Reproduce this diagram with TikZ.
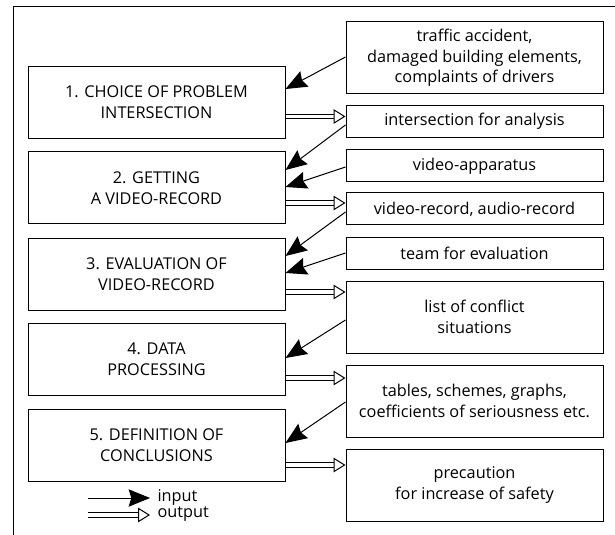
\documentclass[tikz,border=0pt]{standalone}
\usepackage{fontspec}
\setmainfont{Open Sans}
\usetikzlibrary{arrows.meta}

\tikzset{every picture/.style={line width=0.75pt}}
\tikzset{
  stepbox/.style={draw, minimum width=192.75pt, minimum height=54pt, align=center, inner sep=0pt},
  resbox/.style={draw, minimum width=192.75pt, align=center, inner sep=0pt},
  inarr/.style={-{Stealth[length=16pt,width=13pt,inset=2pt]}},
  outarr/.style={double, double distance=2.4pt, -{Triangle[open, length=9pt, width=11pt, line width=0.75pt]}},
}

\begin{document}
\begin{tikzpicture}[x=0.75pt,y=0.75pt,yscale=-1,xscale=1,
  font=\fontsize{12.2pt}{15.5pt}\selectfont]
  \useasboundingbox (0,0) rectangle (615,535);

  %Straight Lines [frame]
  \draw (615,7) -- (13,7) -- (13,535);

  %Shape: Rectangle [steps]
  \node[stepbox] (choice) at (156.5,102.5) {1. CHOICE OF PROBLEM\\INTERSECTION};
  \node[stepbox] (getrec) at (156.5,188) {2. GETTING\\A VIDEO-RECORD};
  \node[stepbox] (evalrec) at (156.5,274) {3. EVALUATION OF\\VIDEO-RECORD};
  \node[stepbox] (dataproc) at (156.5,359.5) {4. DATA\\PROCESSING};
  \node[stepbox] (concl) at (156.5,445) {5. DEFINITION OF\\CONCLUSIONS};

  %Shape: Rectangle [inputs and results]
  \node[resbox, minimum height=54pt] (traffic) at (474.5,58) {traffic accident,\\damaged building elements,\\complaints of drivers};
  \node[resbox, minimum height=24pt] (inters) at (474.5,121.5) {intersection for analysis};
  \node[resbox, minimum height=24pt] (apparatus) at (474.5,166) {video-apparatus};
  \node[resbox, minimum height=24pt] (record) at (474.5,209) {video-record, audio-record};
  \node[resbox, minimum height=24pt] (team) at (474.5,253) {team for evaluation};
  \node[resbox, minimum height=54pt] (conflicts) at (474.5,317) {list of conflict\\situations};
  \node[resbox, minimum height=54pt] (tables) at (474.5,401) {tables, schemes, graphs,\\coefficients of seriousness etc.};
  \node[resbox, minimum height=54pt] (precaution) at (474.5,485) {precaution\\for increase of safety};

  %Straight Lines [inputs]
  \draw[inarr] ([yshift=-0.75pt]traffic.west) -- ([yshift=-10.1pt]choice.east);
  \draw[inarr] ([yshift=2.6pt]inters.west) -- ([yshift=-13.5pt]getrec.east);
  \draw[inarr] ([yshift=0.75pt]apparatus.west) -- ([yshift=-0.75pt]getrec.east);
  \draw[inarr] ([yshift=2.25pt]record.west) -- ([yshift=-13.5pt]evalrec.east);
  \draw[inarr] (team.west) -- ([yshift=-0.75pt]evalrec.east);
  \draw[inarr] ([yshift=2.25pt]conflicts.west) -- ([yshift=-1.1pt]dataproc.east);
  \draw[inarr] ([yshift=0.75pt]tables.west) -- ([yshift=-1.5pt]concl.east);

  %Straight Lines [outputs]
  \draw[outarr] ([yshift=10.5pt]choice.east) -- ([yshift=10.5pt]choice.east -| inters.west);
  \draw[outarr] ([yshift=11.25pt]getrec.east) -- ([yshift=11.25pt]getrec.east -| record.west);
  \draw[outarr] ([yshift=13.5pt]evalrec.east) -- ([yshift=13.5pt]evalrec.east -| conflicts.west);
  \draw[outarr] ([yshift=13.9pt]dataproc.east) -- ([yshift=13.9pt]dataproc.east -| tables.west);
  \draw[outarr] ([yshift=15pt]concl.east) -- ([yshift=15pt]concl.east -| precaution.west);

  % Legend
  \coordinate (inA) at (88,498);
  \coordinate (inB) at (150,498);
  \coordinate (outA) at (88,515);
  \coordinate (outB) at (150,515);
  \draw[inarr] (inA) -- (inB);
  \draw[outarr] (outA) -- (outB);
  % Text Node
  \node[anchor=west, inner sep=0pt] (inlabel) at (157,497) {input};
  % Text Node
  \node[anchor=west, inner sep=0pt] (outlabel) at (157,514) {output};
\end{tikzpicture}
\end{document}
